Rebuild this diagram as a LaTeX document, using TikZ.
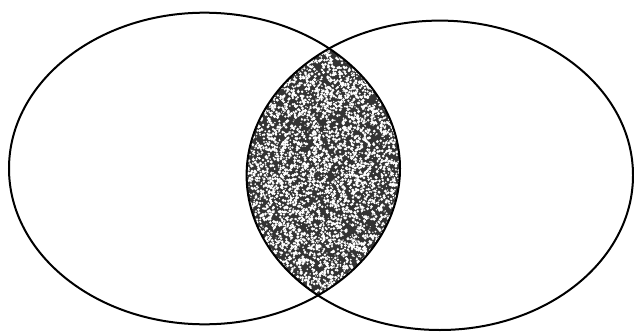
\documentclass[tikz,border=0pt]{standalone}
\begin{document}
\begin{tikzpicture}[x=1pt,y=-1pt,
  setline/.style={line width=2pt, black}]
\useasboundingbox (0,0) rectangle (634,332);
\coordinate (cl) at (204.5,168.5);
\coordinate (cr) at (439.8,175.3);
\begin{scope}
  \clip (cl) ellipse [x radius=195.5, y radius=155.8];
  \fill[black!80] (cr) ellipse [x radius=193.2, y radius=154.7];
  \clip (cr) ellipse [x radius=193.2, y radius=154.7];
  \pgfmathsetseed{7}
  \foreach \i in {1,...,6000}{
    \pgfmathsetmacro\xx{246+rnd*155}
    \pgfmathsetmacro\yy{45+rnd*255}
    \pgfmathsetmacro\rr{0.6+rnd*1.1}
    \fill[white] (\xx,\yy) circle [radius=\rr];
  }
\end{scope}
\draw[setline] (cl) ellipse [x radius=195.5, y radius=155.8];
\draw[setline] (cr) ellipse [x radius=193.2, y radius=154.7];
\end{tikzpicture}
\end{document}
